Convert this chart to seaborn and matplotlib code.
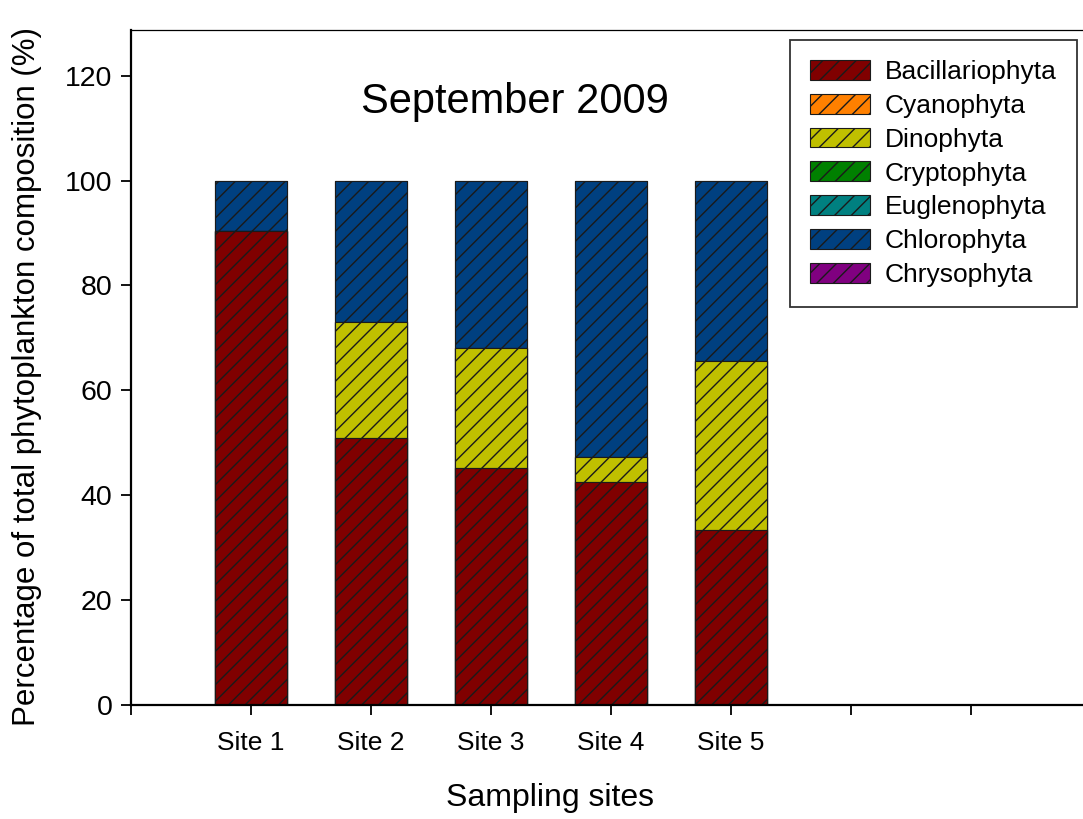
import numpy as np
import pandas as pd
import matplotlib
matplotlib.use("Agg")
import matplotlib.pyplot as plt
from matplotlib.patches import Patch
import seaborn as sns

# Phytoplankton composition (% of total) at each sampling site, September 2009
sites = ["Site 1", "Site 2", "Site 3", "Site 4", "Site 5"]
site_pos = [1, 2, 3, 4, 5]
bacillariophyta = [90.4, 51.0, 45.1, 42.5, 33.3]
cyanophyta = [0.0, 0.0, 0.0, 0.0, 0.0]
dinophyta = [0.0, 22.0, 22.9, 4.7, 32.3]
cryptophyta = [0.0, 0.0, 0.0, 0.0, 0.0]
euglenophyta = [0.0, 0.0, 0.0, 0.0, 0.0]
chlorophyta = [9.6, 27.0, 32.0, 52.8, 34.4]
chrysophyta = [0.0, 0.0, 0.0, 0.0, 0.0]

groups = ["Bacillariophyta", "Cyanophyta", "Dinophyta", "Cryptophyta",
          "Euglenophyta", "Chlorophyta", "Chrysophyta"]
colors = ["#800000", "#FF8000", "#C0C000", "#008000",
          "#008080", "#004080", "#800080"]
series = [bacillariophyta, cyanophyta, dinophyta, cryptophyta,
          euglenophyta, chlorophyta, chrysophyta]

sns.set_style("ticks")
plt.rcParams["font.family"] = ["Liberation Sans", "DejaVu Sans"]
plt.rcParams["hatch.linewidth"] = 1.0
plt.rcParams["hatch.color"] = "black"
for key in ["text.color", "axes.labelcolor", "xtick.color", "ytick.color",
            "axes.edgecolor"]:
    plt.rcParams[key] = "black"

fig = plt.figure(figsize=(10.83, 8.19), dpi=100)
ax = fig.add_axes([131 / 1083, 1 - 705 / 819, 960 / 1083, 675 / 819])

# Stacked bars: draw cumulative totals from the top layer down
cum = np.cumsum(np.array(series), axis=0)
for i in range(len(groups) - 1, -1, -1):
    df = pd.DataFrame({"site": site_pos, "value": cum[i]})
    sns.barplot(data=df, x="site", y="value", native_scale=True, width=0.6,
                color=colors[i], saturation=1, errorbar=None, ax=ax,
                edgecolor="#1a1a1a", linewidth=0.8, hatch="//")

ax.set_xlim(0, 8)
ax.set_ylim(0, 128.7)
ax.set_xticks(range(0, 8))
ax.set_xticklabels([""] + sites + ["", ""])
ax.set_yticks(range(0, 121, 20))
ax.tick_params(axis="both", direction="out", length=7, width=1.3,
               labelsize=19, colors="black")
ax.tick_params(axis="y", labelsize=20.5, pad=6.5)
ax.tick_params(axis="x", pad=12)

for side in ["left", "bottom"]:
    ax.spines[side].set_linewidth(1.6)
ax.spines["top"].set_linewidth(0.9)
ax.spines["right"].set_visible(False)
for side in ax.spines:
    ax.spines[side].set_color("black")

ax.set_xlabel("Sampling sites", fontsize=23)
ax.xaxis.set_label_coords((550 - 131) / 960, -(798 - 705) / 675)
ax.xaxis.label.set_va("center")
ax.set_ylabel("Percentage of total phytoplankton composition (%)", fontsize=22.5)
ax.yaxis.set_label_coords(-(131 - 27) / 960, (705 - 376) / 675)
ax.yaxis.label.set_va("center")

ax.text((515 - 131) / 960, (705 - 102) / 675, "September 2009",
        transform=ax.transAxes, ha="center", va="center", fontsize=30)

handles = [Patch(facecolor=c, edgecolor="#1a1a1a", linewidth=0.8, hatch="//")
           for c in colors]
leg = fig.legend(handles, groups, loc="upper left",
                 bbox_to_anchor=(790 / 1083, 1 - 40 / 819),
                 bbox_transform=fig.transFigure, borderaxespad=0,
                 fontsize=19, frameon=True, fancybox=False,
                 handlelength=2.3, handleheight=0.78, handletextpad=0.55,
                 labelspacing=0.37, borderpad=0.75)
leg.get_frame().set_edgecolor("black")
leg.get_frame().set_linewidth(1.3)

fig.savefig("out.png", dpi=100)
